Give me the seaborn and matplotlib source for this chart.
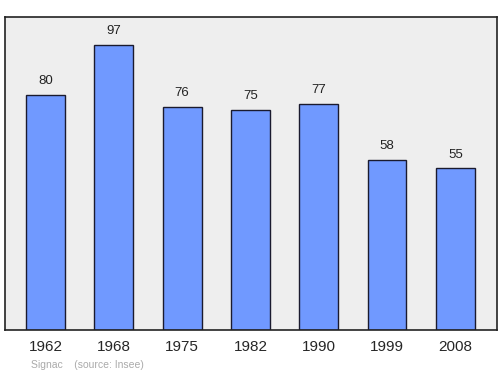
import matplotlib
matplotlib.use("Agg")
import matplotlib.pyplot as plt
import seaborn as sns
import pandas as pd

years = ["1962", "1968", "1975", "1982", "1990", "1999", "2008"]
population = [80, 97, 76, 75, 77, 58, 55]
footer = "Signac    (source: Insee)"

sns.set_style("white")
plt.rcParams['font.family'] = ['Liberation Sans', 'DejaVu Sans']

df = pd.DataFrame({"year": years, "pop": population})

fig = plt.figure(figsize=(5, 3.74), dpi=100)
ax = fig.add_axes([5/500, 1 - 330/374, 492/500, 313/374])
ax.set_facecolor('#eeeeee')
sns.barplot(data=df, x="year", y="pop", ax=ax, color='#7099ff', saturation=1,
            width=0.57, edgecolor='#1a1a2e', linewidth=1)
ax.set_xlim(-0.593, 6.61)
ax.set_ylim(0, 106.5)
ax.set_xlabel("")
ax.set_ylabel("")
ax.set_yticks([])
ax.tick_params(axis='x', length=0, labelsize=11, pad=7)
for s in ax.spines.values():
    s.set_visible(True)
    s.set_color('#222222')
    s.set_linewidth(1.2)
for i, v in enumerate(population):
    ax.annotate(str(v), (i, v), xytext=(0, 5.5), textcoords='offset points',
                ha='center', va='bottom', fontsize=9.5, color='#222222')
fig.text(31/500, 1 - 365/374, footer, fontsize=7.5, color='#aaaaaa', va='center', ha='left')
fig.savefig("out.png", dpi=100)
